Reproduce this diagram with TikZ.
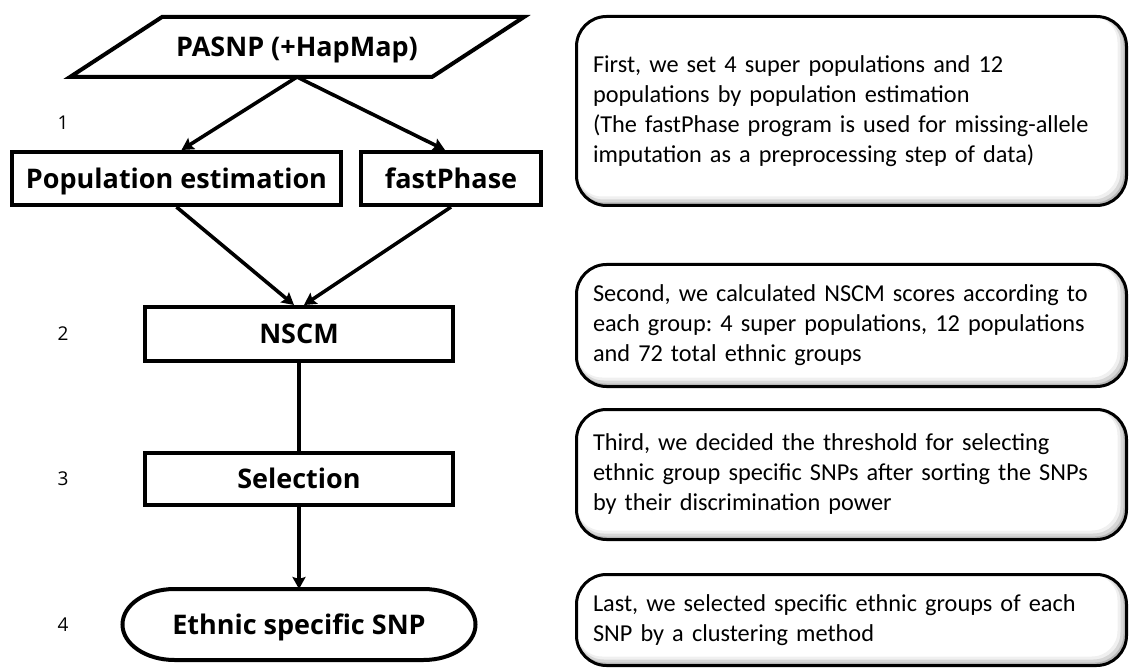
\documentclass[tikz,border=0pt]{standalone}
\usepackage{fontspec}
\setmainfont{Open Sans}
\newfontfamily\notefont{Carlito}
\usetikzlibrary{shapes.geometric,arrows.meta,positioning,calc}

\begin{document}
\frenchspacing
\begin{tikzpicture}[x=1pt,y=-1pt,
  flow/.style={draw,line width=4pt,minimum height=53pt,inner sep=0pt,text height=19.5pt,text depth=0pt,font=\fontsize{27}{30}\selectfont\bfseries},
  num/.style={font=\fontsize{19}{20}\selectfont},
  note/.style={draw,line width=3pt,rounded corners=30pt,fill=white,anchor=north west,text width=517pt,inner xsep=16.5pt,inner ysep=0pt,align=left,font=\notefont\fontsize{24.3}{30}\selectfont,
    path picture={
      \draw[line width=3pt,opacity=.14,rounded corners=30pt] ($(path picture bounding box.south west)+(-1.5pt,1.5pt)$) rectangle ($(path picture bounding box.north east)+(-1.5pt,1.5pt)$);
      \draw[line width=6pt,opacity=.10,rounded corners=30pt] ($(path picture bounding box.south west)+(-3pt,3pt)$) rectangle ($(path picture bounding box.north east)+(-3pt,3pt)$);
      \draw[line width=9pt,opacity=.06,rounded corners=30pt] ($(path picture bounding box.south west)+(-4.5pt,4.5pt)$) rectangle ($(path picture bounding box.north east)+(-4.5pt,4.5pt)$);
    }},
  arr/.style={-{Stealth[length=12pt,width=13pt,inset=2pt]},line width=3.6pt},
  link/.style={line width=3.6pt}]
\useasboundingbox (0,0) rectangle (1130,668);
% flow chart
\node[flow,draw=none,outer sep=0pt,minimum width=454pt,minimum height=60pt] (pasnp) at (297,47) {PASNP (+HapMap)};
\draw[line width=4pt] ($(pasnp.north west)+(92pt,0pt)$) -- (pasnp.north east) -- ($(pasnp.south east)+(-92pt,0pt)$) -- (pasnp.south west) -- cycle;
\node[flow,minimum width=329pt] (pop) at (176.5,178.5) {Population estimation};
\node[flow,minimum width=180pt,right=16pt of pop] (fast) {fastPhase};
\node[flow,minimum width=308pt,minimum height=54pt] (nscm) at (299,334) {NSCM};
\node[flow,minimum width=308pt,minimum height=52pt,below=88pt of nscm] (sel) {Selection};
\node[flow,draw=none,outer sep=0pt,minimum width=353pt,minimum height=71pt,below=82pt of sel] (eth) {Ethnic specific SNP};
\draw[line width=4pt] ($(eth.north west)+(52pt,0pt)$) -- ($(eth.north east)+(-52pt,0pt)$)
  arc[start angle=90,end angle=-90,x radius=52pt,y radius=35.5pt] -- ($(eth.south west)+(52pt,0pt)$)
  arc[start angle=270,end angle=90,x radius=52pt,y radius=35.5pt] -- cycle;
% step numbers
\node[num] (s1) at (63,123) {1};
\node[num] (s2) at (s1 |- nscm) {2};
\node[num] (s3) at (s1 |- sel) {3};
\node[num] (s4) at (s1 |- eth) {4};
% connectors
\draw[arr] (pasnp.south) -- ($(pop.north)+(5pt,0pt)$);
\draw[arr] (pasnp.south) -- ($(fast.north)+(-6pt,0pt)$);
\draw[arr] (pop.south) -- ($(nscm.north)+(-5pt,0pt)$);
\draw[arr] (fast.south) -- ($(nscm.north)+(5pt,0pt)$);
\draw[link] (nscm) -- (sel);
\draw[arr] (sel) -- (eth.north);
% notes
\node[note,minimum height=189pt] (t1) at (575,15) {First, we set 4 super populations and 12\\populations by population estimation\\(The fastPhase program is used for missing-allele\\imputation as a preprocessing step of data)};
\node[note,minimum height=122pt,below=56pt of t1] (t2) {Second, we calculated NSCM scores according to\\each group: 4 super populations, 12 populations\\and 72 total ethnic groups};
\node[note,minimum height=130pt,below=20pt of t2] (t3) {Third, we decided the threshold for selecting\\ethnic group specific SNPs after sorting the SNPs\\by their discrimination power};
\node[note,minimum height=91pt,below=32pt of t3] (t4) {Last, we selected specific ethnic groups of each\\SNP by a clustering method};
\end{tikzpicture}
\end{document}
